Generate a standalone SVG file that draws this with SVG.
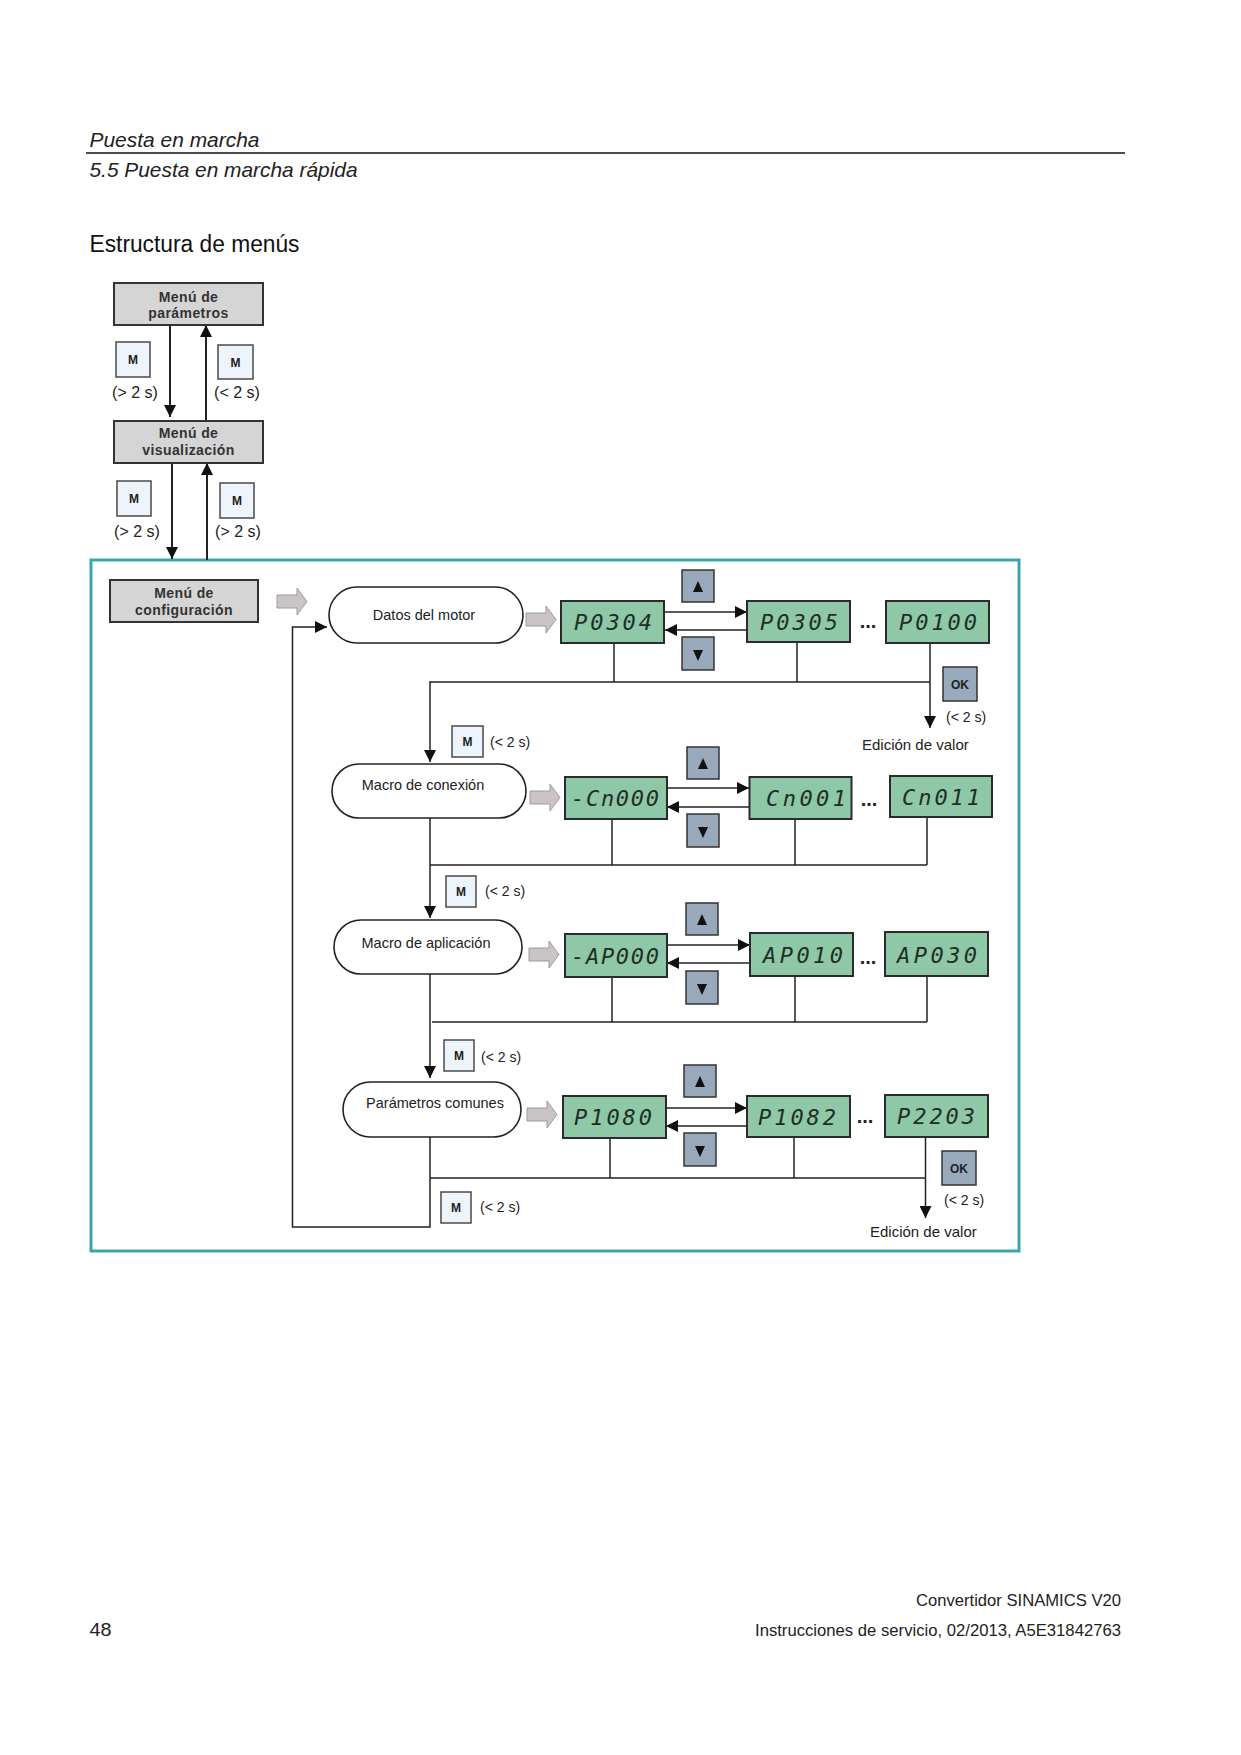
<svg xmlns="http://www.w3.org/2000/svg" xmlns:xlink="http://www.w3.org/1999/xlink" width="1241" height="1755" viewBox="0 0 1241 1755">
<style>
.box{fill:#d5d5d5;stroke:#333;stroke-width:2}
.btnM{fill:#eef4fb;stroke:#4a4a4a;stroke-width:1.5}
.btnA{fill:#98a9bb;stroke:#333;stroke-width:1.5}
.disp{fill:#8ec8a7;stroke:#2b2b2b;stroke-width:2}
.pill{fill:#fff;stroke:#222;stroke-width:1.6}
.ln{stroke:#222;stroke-width:1.5;fill:none}
.lnb{stroke:#222;stroke-width:2;fill:none}
.garrow{fill:#cbc4c4;stroke:#a29a9a;stroke-width:1}
.tri{fill:#111}
.frame{fill:none;stroke:#3aa6a8;stroke-width:3}
text{font-family:"Liberation Sans",Arial,sans-serif}
.tbox{font-size:14px;font-weight:bold;fill:#333;text-anchor:middle;letter-spacing:0.4px}
.tlbl{font-size:14px;fill:#222}
.tval{font-size:15px;fill:#222}
.tlbl16{font-size:16px;fill:#222;text-anchor:middle}
.tpill{font-size:14.5px;fill:#222;text-anchor:middle}
.tdisp{font-family:"DejaVu Sans Mono","Liberation Mono",monospace;font-size:22px;font-style:oblique;fill:#1f2f26;text-anchor:middle}
.tbtn{font-size:12px;font-weight:bold;fill:#222;text-anchor:middle}
.tdots{font-size:20px;font-weight:bold;fill:#222;text-anchor:middle}
</style>
<defs>
<marker id="ah" viewBox="0 0 12 12" refX="12" refY="6" markerWidth="12" markerHeight="12" markerUnits="userSpaceOnUse" orient="auto"><path d="M0,0 L12,6 L0,12 Z" fill="#111"/></marker>
<path id="garr" class="garrow" d="M0,7 H20 V0 L30,13.5 L20,27 V20 H0 Z"/>
<g id="btnUp"><rect class="btnA" x="0" y="0" width="32" height="32"/><path class="tri" d="M11,22 L21,22 L16,11 Z"/></g>
<g id="btnDown"><rect class="btnA" x="0" y="0" width="32" height="33"/><path class="tri" d="M11,13 L21,13 L16,24 Z"/></g>
</defs>
<rect width="1241" height="1755" fill="#fff"/>

<g id="header">
<text x="89.5" y="147" font-size="21" font-style="italic" fill="#222" textLength="170" lengthAdjust="spacingAndGlyphs">Puesta en marcha</text>
<line x1="86" y1="153" x2="1125" y2="153" stroke="#111" stroke-width="1.3"/>
<text x="89.5" y="177" font-size="21" font-style="italic" fill="#222" textLength="268" lengthAdjust="spacingAndGlyphs">5.5 Puesta en marcha rápida</text>
<text x="89.5" y="252" font-size="23" fill="#111" textLength="210" lengthAdjust="spacingAndGlyphs">Estructura de menús</text>
</g>

<g id="frame"><rect class="frame" x="91" y="560" width="928" height="691"/></g>

<g id="connectors">
<line class="lnb" x1="170" y1="325" x2="170" y2="417" marker-end="url(#ah)"/>
<line class="lnb" x1="206" y1="421" x2="206" y2="325" marker-end="url(#ah)"/>
<line class="lnb" x1="172" y1="463" x2="172" y2="559" marker-end="url(#ah)"/>
<line class="lnb" x1="207" y1="560" x2="207" y2="463" marker-end="url(#ah)"/>
<!-- row 1 -->
<line class="ln" x1="664" y1="612" x2="747" y2="612" marker-end="url(#ah)"/>
<line class="ln" x1="747" y1="630" x2="665" y2="630" marker-end="url(#ah)"/>
<line class="ln" x1="614" y1="643" x2="614" y2="682"/>
<line class="ln" x1="797" y1="642" x2="797" y2="682"/>
<line class="ln" x1="930" y1="643" x2="930" y2="728" marker-end="url(#ah)"/>
<line class="ln" x1="430" y1="682" x2="930" y2="682"/>
<line class="ln" x1="430" y1="681.25" x2="430" y2="762" marker-end="url(#ah)"/>
<!-- row 2 -->
<line class="ln" x1="667" y1="788" x2="749" y2="788" marker-end="url(#ah)"/>
<line class="ln" x1="749" y1="807" x2="667" y2="807" marker-end="url(#ah)"/>
<line class="ln" x1="612" y1="819" x2="612" y2="865"/>
<line class="ln" x1="795" y1="819" x2="795" y2="865"/>
<line class="ln" x1="927" y1="817" x2="927" y2="865"/>
<line class="ln" x1="430" y1="865" x2="927" y2="865"/>
<line class="ln" x1="430" y1="818" x2="430" y2="918" marker-end="url(#ah)"/>
<!-- row 3 -->
<line class="ln" x1="667" y1="945" x2="750" y2="945" marker-end="url(#ah)"/>
<line class="ln" x1="750" y1="963" x2="667" y2="963" marker-end="url(#ah)"/>
<line class="ln" x1="612" y1="977" x2="612" y2="1022"/>
<line class="ln" x1="795" y1="976" x2="795" y2="1022"/>
<line class="ln" x1="927" y1="976" x2="927" y2="1022"/>
<line class="ln" x1="432" y1="1022" x2="927" y2="1022"/>
<line class="ln" x1="430" y1="974" x2="430" y2="1078" marker-end="url(#ah)"/>
<!-- row 4 -->
<line class="ln" x1="666" y1="1108" x2="747" y2="1108" marker-end="url(#ah)"/>
<line class="ln" x1="747" y1="1126" x2="666" y2="1126" marker-end="url(#ah)"/>
<line class="ln" x1="610" y1="1138" x2="610" y2="1178"/>
<line class="ln" x1="794" y1="1137" x2="794" y2="1178"/>
<line class="ln" x1="925.5" y1="1137" x2="925.5" y2="1218" marker-end="url(#ah)"/>
<line class="ln" x1="430" y1="1178" x2="925.5" y2="1178"/>
<!-- loop back -->
<polyline class="ln" points="430,1137 430,1227 292.5,1227 292.5,627 327,627" marker-end="url(#ah)"/>
<!-- gray block arrows -->
<use xlink:href="#garr" x="277" y="588"/>
<use xlink:href="#garr" x="526" y="606"/>
<use xlink:href="#garr" x="530" y="784"/>
<use xlink:href="#garr" x="529" y="941"/>
<use xlink:href="#garr" x="527" y="1101"/>
</g>

<g id="menu-parametros">
<rect class="box" x="114" y="283" width="149" height="42"/>
<text class="tbox" x="188.5" y="302">Menú de</text>
<text class="tbox" x="188.5" y="318">parámetros</text>
</g>
<g id="menu-visualizacion">
<rect class="box" x="114" y="421" width="149" height="42"/>
<text class="tbox" x="188.5" y="438">Menú de</text>
<text class="tbox" x="188.5" y="455">visualización</text>
</g>
<g id="keys-top">
<rect class="btnM" x="116" y="342" width="34" height="35"/><text class="tbtn" x="133" y="364">M</text>
<text class="tlbl16" x="135" y="398">(&gt; 2 s)</text>
<rect class="btnM" x="218" y="345" width="35" height="34"/><text class="tbtn" x="235.5" y="367">M</text>
<text class="tlbl16" x="237" y="398">(&lt; 2 s)</text>
<rect class="btnM" x="117" y="481" width="34" height="35"/><text class="tbtn" x="134" y="503">M</text>
<text class="tlbl16" x="137" y="537">(&gt; 2 s)</text>
<rect class="btnM" x="220" y="483" width="34" height="35"/><text class="tbtn" x="237" y="505">M</text>
<text class="tlbl16" x="238" y="537">(&gt; 2 s)</text>
</g>

<g id="menu-configuracion">
<rect class="box" x="110" y="580" width="148" height="42"/>
<text class="tbox" x="184" y="598">Menú de</text>
<text class="tbox" x="184" y="615">configuración</text>
</g>

<g id="datos-motor">
<rect class="pill" x="329" y="587" width="194" height="56" rx="28"/>
<text class="tpill" x="424" y="620">Datos del motor</text>
</g>
<g id="row1-displays">
<rect class="disp" x="561" y="601" width="103" height="42"/><text class="tdisp" x="613" y="630" textLength="78" lengthAdjust="spacing">P0304</text>
<rect class="disp" x="747" y="601" width="103" height="41"/><text class="tdisp" x="799" y="630" textLength="78" lengthAdjust="spacing">P0305</text>
<text class="tdots" x="868" y="628">...</text>
<rect class="disp" x="886" y="601" width="103" height="42"/><text class="tdisp" x="938" y="630" textLength="78" lengthAdjust="spacing">P0100</text>
<use xlink:href="#btnUp" x="682" y="570"/>
<use xlink:href="#btnDown" x="682" y="637"/>
<rect class="btnA" x="943" y="667" width="34" height="34"/><text class="tbtn" x="960" y="689">OK</text>
<text class="tlbl" x="946" y="722">(&lt; 2 s)</text>
<text class="tval" x="862" y="750">Edición de valor</text>
<rect class="btnM" x="452" y="726" width="31" height="31"/><text class="tbtn" x="467.5" y="746">M</text>
<text class="tlbl" x="490" y="747">(&lt; 2 s)</text>
</g>

<g id="macro-conexion">
<rect class="pill" x="332" y="764" width="194" height="54" rx="27"/>
<text class="tpill" x="423" y="790">Macro de conexión</text>
</g>
<g id="row2-displays">
<rect class="disp" x="565" y="777" width="102" height="42"/><text class="tdisp" x="615" y="806" textLength="88" lengthAdjust="spacing">-Cn000</text>
<rect class="disp" x="749.5" y="777" width="102" height="42"/><text class="tdisp" x="806" y="806" textLength="80" lengthAdjust="spacing">Cn001</text>
<text class="tdots" x="869" y="806">...</text>
<rect class="disp" x="890" y="776" width="102" height="41"/><text class="tdisp" x="941" y="805" textLength="78" lengthAdjust="spacing">Cn011</text>
<use xlink:href="#btnUp" x="687" y="747"/>
<use xlink:href="#btnDown" x="687" y="814"/>
<rect class="btnM" x="446" y="876" width="30" height="31"/><text class="tbtn" x="461" y="896">M</text>
<text class="tlbl" x="485" y="896">(&lt; 2 s)</text>
</g>

<g id="macro-aplicacion">
<rect class="pill" x="334" y="920" width="188" height="54" rx="27"/>
<text class="tpill" x="426" y="948">Macro de aplicación</text>
</g>
<g id="row3-displays">
<rect class="disp" x="565" y="934" width="102" height="43"/><text class="tdisp" x="615" y="964" textLength="88" lengthAdjust="spacing">-AP000</text>
<rect class="disp" x="750" y="933" width="103" height="43"/><text class="tdisp" x="803" y="963" textLength="80" lengthAdjust="spacing">AP010</text>
<text class="tdots" x="868" y="964">...</text>
<rect class="disp" x="885" y="932" width="103" height="44"/><text class="tdisp" x="937" y="963" textLength="80" lengthAdjust="spacing">AP030</text>
<use xlink:href="#btnUp" x="686" y="903"/>
<use xlink:href="#btnDown" x="686" y="971"/>
<rect class="btnM" x="444" y="1040" width="30" height="31"/><text class="tbtn" x="459" y="1060">M</text>
<text class="tlbl" x="481" y="1062">(&lt; 2 s)</text>
</g>

<g id="parametros-comunes">
<rect class="pill" x="343" y="1082" width="178" height="55" rx="27.5"/>
<text class="tpill" x="435" y="1108">Parámetros comunes</text>
</g>
<g id="row4-displays">
<rect class="disp" x="563" y="1096" width="103" height="42"/><text class="tdisp" x="613" y="1125" textLength="78" lengthAdjust="spacing">P1080</text>
<rect class="disp" x="747" y="1096" width="103" height="41"/><text class="tdisp" x="797" y="1125" textLength="78" lengthAdjust="spacing">P1082</text>
<text class="tdots" x="865" y="1123">...</text>
<rect class="disp" x="885" y="1095" width="103" height="42"/><text class="tdisp" x="936" y="1124" textLength="78" lengthAdjust="spacing">P2203</text>
<use xlink:href="#btnUp" x="684" y="1065"/>
<use xlink:href="#btnDown" x="684" y="1133"/>
<rect class="btnA" x="942" y="1151" width="34" height="34"/><text class="tbtn" x="959" y="1173">OK</text>
<text class="tlbl" x="944" y="1205">(&lt; 2 s)</text>
<text class="tval" x="870" y="1237">Edición de valor</text>
<rect class="btnM" x="441" y="1192" width="30" height="31"/><text class="tbtn" x="456" y="1212">M</text>
<text class="tlbl" x="480" y="1212">(&lt; 2 s)</text>
</g>

<g id="footer">
<text x="1121" y="1606" font-size="16.5" fill="#222" text-anchor="end" textLength="205" lengthAdjust="spacingAndGlyphs">Convertidor SINAMICS V20</text>
<text x="1121" y="1636" font-size="16.5" fill="#222" text-anchor="end" textLength="366" lengthAdjust="spacingAndGlyphs">Instrucciones de servicio, 02/2013, A5E31842763</text>
<text x="89.5" y="1636" font-size="19" fill="#222" textLength="22" lengthAdjust="spacingAndGlyphs">48</text>
</g>
</svg>
